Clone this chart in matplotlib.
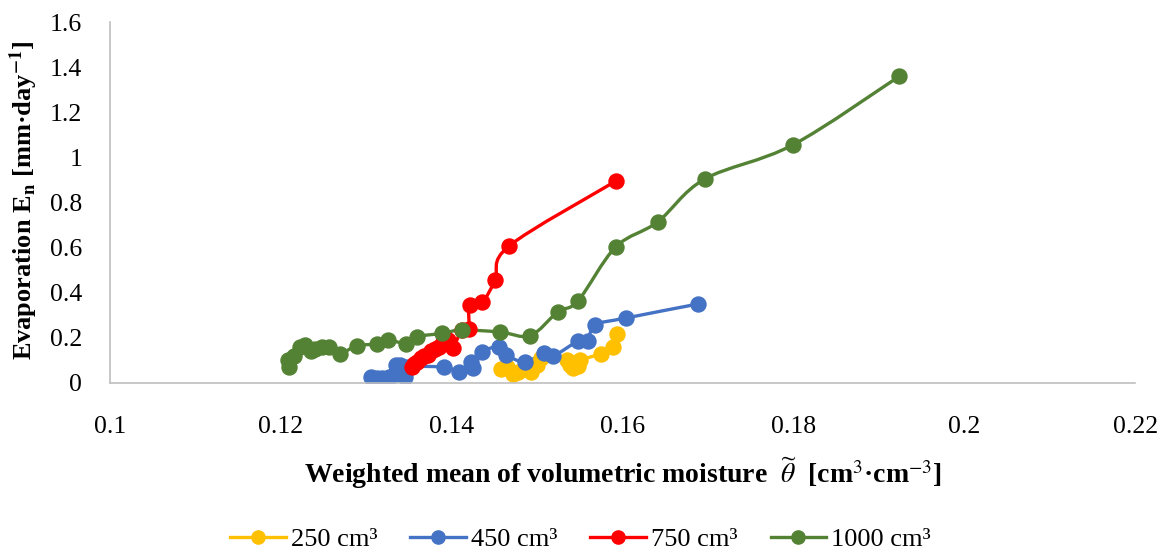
import matplotlib
matplotlib.use("Agg")
import matplotlib.pyplot as plt
import numpy as np
from matplotlib.path import Path
from matplotlib.patches import PathPatch
from matplotlib.lines import Line2D

plt.rcParams['font.family'] = ['Liberation Serif', 'DejaVu Serif']
plt.rcParams['mathtext.fontset'] = 'stix'

# 250 cm3
x250 = [0.1458, 0.1465, 0.1472, 0.1478, 0.1487, 0.1493, 0.1500, 0.1505,
        0.1535, 0.1538, 0.1542, 0.1548, 0.1550, 0.1575, 0.1589, 0.1593]
y250 = [0.060, 0.070, 0.040, 0.050, 0.065, 0.050, 0.080, 0.110,
        0.100, 0.080, 0.065, 0.075, 0.100, 0.130, 0.160, 0.215]

# 450 cm3
x450 = [0.1306, 0.1313, 0.1319, 0.1327, 0.1332, 0.1335, 0.1340, 0.1345, 0.1347,
        0.1391, 0.1409, 0.1423, 0.1425, 0.1436, 0.1455, 0.1464, 0.1486, 0.1508,
        0.1519, 0.1548, 0.1559, 0.1568, 0.1604, 0.1688]
y450 = [0.027, 0.022, 0.022, 0.027, 0.035, 0.080, 0.080, 0.027, 0.070,
        0.070, 0.050, 0.093, 0.066, 0.137, 0.160, 0.124, 0.093, 0.133,
        0.120, 0.186, 0.186, 0.257, 0.288, 0.350]

# 750 cm3
x750 = [0.1354, 0.1356, 0.1360, 0.1364, 0.1368, 0.1372, 0.1376, 0.1380, 0.1385,
        0.1390, 0.1396, 0.1401, 0.1412, 0.1420, 0.1421, 0.1436, 0.1451, 0.1467, 0.1592]
y750 = [0.070, 0.085, 0.095, 0.110, 0.120, 0.125, 0.140, 0.150, 0.160,
        0.180, 0.190, 0.155, 0.235, 0.240, 0.346, 0.360, 0.457, 0.607, 0.895]

# 1000 cm3
x1000 = [0.1210, 0.1209, 0.1215, 0.1223, 0.1228, 0.1235, 0.1240, 0.1248, 0.1256,
         0.1269, 0.1289, 0.1313, 0.1326, 0.1347, 0.1359, 0.1389, 0.1412, 0.1457,
         0.1492, 0.1524, 0.1548, 0.1592, 0.1641, 0.1696, 0.1799, 0.1924]
y1000 = [0.070, 0.100, 0.120, 0.160, 0.170, 0.140, 0.150, 0.160, 0.160,
         0.130, 0.165, 0.173, 0.190, 0.175, 0.205, 0.220, 0.235, 0.226,
         0.210, 0.315, 0.365, 0.603, 0.714, 0.904, 1.055, 1.360]

series = [
    ("250 cm³", x250, y250, "#FFC000"),
    ("450 cm³", x450, y450, "#4472C4"),
    ("750 cm³", x750, y750, "#FF0000"),
    ("1000 cm³", x1000, y1000, "#548235"),
]


def smooth_path(xs, ys):
    # Excel-like smoothed line: Bezier segments through the points
    p = np.column_stack([xs, ys])
    n = len(p)
    verts = [p[0]]
    codes = [Path.MOVETO]
    for i in range(n - 1):
        p0 = p[i - 1] if i > 0 else p[i]
        p3 = p[i + 2] if i + 2 < n else p[i + 1]
        c1 = p[i] + (p[i + 1] - p0) / 6.0
        c2 = p[i + 1] - (p3 - p[i]) / 6.0
        verts += [c1, c2, p[i + 1]]
        codes += [Path.CURVE4] * 3
    return Path(verts, codes)


fig = plt.figure(figsize=(11.61, 5.54), dpi=100)
ax = fig.add_axes([0.0947, 0.3087, 0.883, 0.6513])

handles = []
for label, xs, ys, c in series:
    ax.add_patch(PathPatch(smooth_path(xs, ys), facecolor="none", edgecolor=c,
                           lw=2.4, capstyle="round", joinstyle="round"))
    ax.plot(xs, ys, linestyle="none", marker="o", markersize=10.8, color=c)
    handles.append(Line2D([], [], color=c, lw=2.4, marker="o", markersize=9.5, label=label))

ax.set_xlim(0.1, 0.22)
ax.set_ylim(0, 1.6)
xt = np.round(np.arange(0.10, 0.2201, 0.02), 2)
yt = np.round(np.arange(0, 1.601, 0.2), 1)
ax.set_xticks(xt)
ax.set_xticklabels([f"{v:g}" for v in xt])
ax.set_yticks(yt)
ax.set_yticklabels([f"{v:g}" for v in yt])
ax.tick_params(length=0, labelsize=18.5)
ax.tick_params(axis="x", pad=24)
ax.tick_params(axis="y", pad=20)

for s in ["top", "right"]:
    ax.spines[s].set_visible(False)
for s in ["left", "bottom"]:
    ax.spines[s].set_color("#BFBFBF")
    ax.spines[s].set_linewidth(1.2)

ax.set_xlabel("Weighted mean of volumetric moisture  $\\widetilde{\\theta}$  "
              "[cm$^{\\mathrm{3}}$·cm$^{\\mathrm{-3}}$]",
              fontsize=20, fontweight="bold", labelpad=12)
ax.set_ylabel("Evaporation E$_{\\mathbf{n}}$ [mm·day$^{\\mathbf{-1}}$]",
              fontsize=19, fontweight="bold", labelpad=10)
ax.yaxis.set_label_coords(-0.068, 0.507)

fig.legend(handles=handles, loc="center", bbox_to_anchor=(0.5, 0.027), ncol=4,
           frameon=False, fontsize=19, handlelength=2.1, handletextpad=0.2,
           columnspacing=1.25, borderpad=0)

fig.savefig("out.png", dpi=100)
